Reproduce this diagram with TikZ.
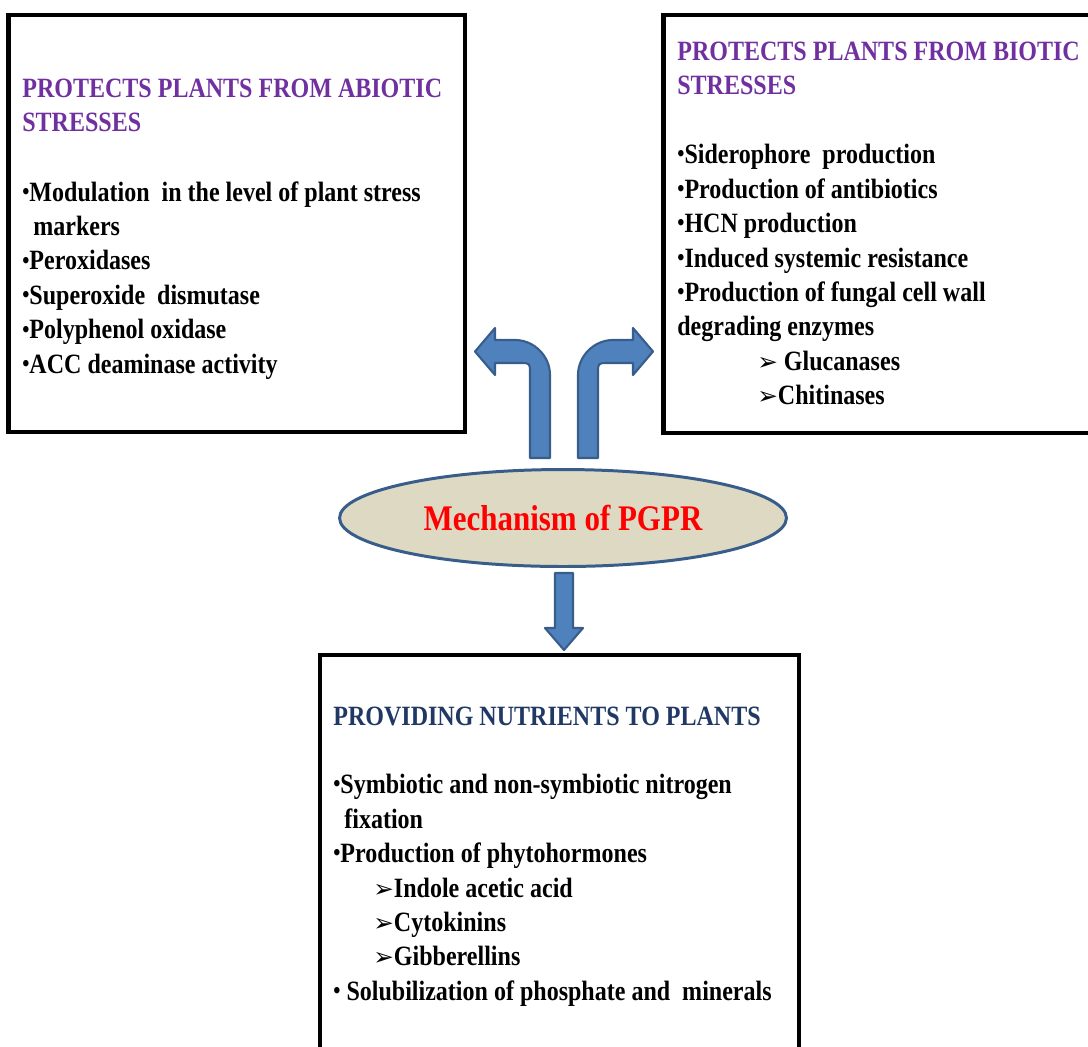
\documentclass[tikz,border=0pt]{standalone}
\usepackage{fontspec}
\usepackage{tikz}
\usetikzlibrary{shapes.geometric}
\newfontfamily\boxfont[FakeStretch=0.86]{Liberation Serif}
\newfontfamily\titlefont[FakeStretch=0.86]{Liberation Serif}
\newfontfamily\arrowfont{DejaVu Sans}
\newcommand{\arrowbullet}{{\arrowfont\fontsize{14pt}{14pt}\selectfont ➢}}
\newcommand{\dotbullet}{{\fontsize{13.5pt}{13.5pt}\selectfont\raisebox{1pt}{•}}}

\definecolor{headpurple}{HTML}{7030A0}
\definecolor{headnavy}{HTML}{1F3864}
\definecolor{arrowblue}{HTML}{4F81BD}
\definecolor{arrowedge}{HTML}{385D8A}
\definecolor{ellipsefill}{HTML}{DDD9C3}

\tikzset{
  box/.style={draw=black, line width=2.3pt},
  boxtext/.style={anchor=north west, inner sep=0pt, align=left,
    font=\boxfont\bfseries\fontsize{15.9pt}{19.6pt}\selectfont},
  blockarrow/.style={fill=arrowblue, draw=arrowedge, line width=1.2pt, line join=round}
}

\begin{document}
\begin{tikzpicture}[x=0.02cm, y=-0.02cm]
                \useasboundingbox (0,0) rectangle (1088,1046);
                \clip (0,0) rectangle (1088,1046);

                % the three boxes
                \draw[box] (8.5,15) rectangle (465,432);
                \draw[box] (663.5,15) rectangle (1110,433);
                \draw[box] (320,655) rectangle (799,1080);

                \node[boxtext, text=headpurple] (abiotichead) at (22,78.5) {PROTECTS PLANTS FROM ABIOTIC\\STRESSES};
                \node[boxtext] (abioticlist) at (22,181) {\dotbullet Modulation\ \ in the level of plant stress\\
                  \hspace*{0.22cm}markers\\
                  \dotbullet Peroxidases\\
                  \dotbullet Superoxide\ \ dismutase\\
                  \dotbullet Polyphenol oxidase\\
                  \dotbullet ACC deaminase activity};

                \node[boxtext, text=headpurple] (biotichead) at (677,41.5) {PROTECTS PLANTS FROM BIOTIC\\STRESSES};
                \node[boxtext] (bioticlist) at (677,144) {\dotbullet Siderophore\ \ production\\
                  \dotbullet Production of antibiotics\\
                  \dotbullet HCN production\\
                  \dotbullet Induced systemic resistance\\
                  \dotbullet Production of fungal cell wall\\
                  degrading enzymes\\
                  \hspace*{1.6cm}\arrowbullet\ Glucanases\\
                  \hspace*{1.6cm}\arrowbullet Chitinases};

                \node[boxtext, text=headnavy] (nutrienthead) at (333,706.5) {PROVIDING NUTRIENTS TO PLANTS};
                \node[boxtext] (nutrientlist) at (333,774) {\dotbullet Symbiotic and non-symbiotic nitrogen\\
                  \hspace*{0.22cm}fixation\\
                  \dotbullet Production of phytohormones\\
                  \hspace*{0.8cm}\arrowbullet Indole acetic acid\\
                  \hspace*{0.8cm}\arrowbullet Cytokinins\\
                  \hspace*{0.8cm}\arrowbullet Gibberellins\\
                  \dotbullet\ Solubilization of phosphate and\ \ minerals};

                % centre
                \node[ellipse, draw=arrowedge, line width=1.7pt, fill=ellipsefill, minimum width=8.94cm, minimum height=1.94cm,
                  text=red, font=\titlefont\bfseries\fontsize{20.5pt}{22pt}\selectfont] (pgpr) at (563,518) {Mechanism of PGPR};

                % block arrows
                \draw[blockarrow] (530,458) -- (530,373) .. controls (530,363) .. (520,363) -- (495,363) -- (495,375)
                  -- (475,351.5) -- (495,328) -- (495,340) -- (515,340) .. controls (534,340) and (550,356) .. (550,375) -- (550,458) -- cycle;
                \draw[blockarrow] (598,458) -- (598,373) .. controls (598,363) .. (608,363) -- (633,363) -- (633,375)
                  -- (653,351.5) -- (633,328) -- (633,340) -- (613,340) .. controls (594,340) and (578,356) .. (578,375) -- (578,458) -- cycle;
                \draw[blockarrow] (555,573) -- (573,573) -- (573,628) -- (583,628) -- (564,650) -- (545,628) -- (555,628) -- cycle;
            \end{tikzpicture}
\end{document}
